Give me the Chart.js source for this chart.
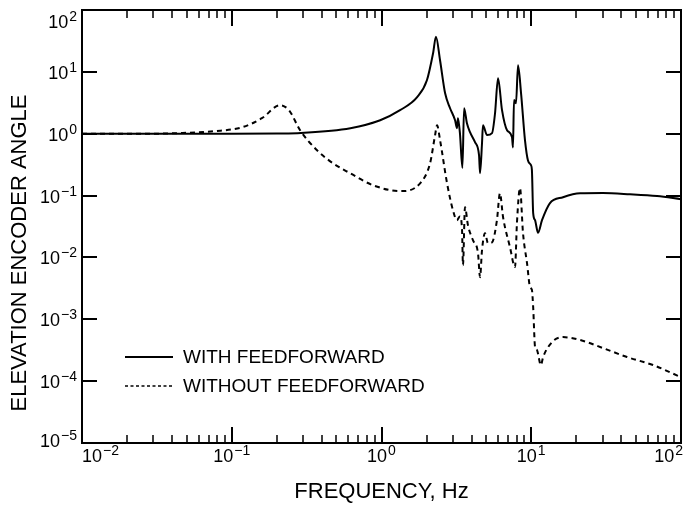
<!DOCTYPE html>
<html>
<head>
<meta charset="utf-8">
<script src="https://cdn.jsdelivr.net/npm/chart.js@4/dist/chart.umd.min.js"></script>
<style>
  html, body { margin: 0; padding: 0; background: #fff; }
</style>
</head>
<body>
<canvas id="chart" width="683" height="506"></canvas>
<script>
// values
const withFreq = [0.01, 0.03, 0.1, 0.2, 0.29, 0.62, 0.98, 1.33, 1.73, 2.01, 2.21, 2.31, 2.46, 2.66,
  2.87, 3.10, 3.19, 3.24, 3.34, 3.47, 3.56, 3.72, 3.90, 4.21, 4.48, 4.55, 4.69, 4.76, 5.07, 5.47,
  5.73, 6.0, 6.38, 6.89, 7.44, 7.55, 7.67, 7.91, 8.16, 8.55, 9.08, 9.51, 9.96, 10.1, 10.3, 10.6,
  11.1, 11.8, 13.3, 16.3, 21.2, 30.1, 45.6, 69.2, 100];
const withGain = [1.0, 1.0, 1.0, 1.01, 1.03, 1.23, 1.65, 2.4, 3.9, 7.3, 20, 37, 15.4, 4.5,
  2.58, 1.65, 1.23, 1.78, 1.02, 0.28, 2.58, 1.48, 1.06, 0.73, 0.45, 0.23, 0.70, 1.37, 0.95, 1.02,
  2.14, 7.9, 2.4, 1.14, 0.88, 0.6, 3.5, 3.1, 12.8, 4.5, 0.79, 0.37, 0.31, 0.26, 0.052, 0.040,
  0.025, 0.040, 0.075, 0.094, 0.109, 0.11, 0.105, 0.098, 0.0875];

const withoutFreq = [0.01, 0.028, 0.047, 0.077, 0.117, 0.159, 0.21, 0.241, 0.286, 0.371, 0.474,
  0.617, 0.877, 1.33, 1.81, 2.11, 2.28, 2.35, 2.46, 2.74, 3.0, 3.19, 3.34, 3.45, 3.50, 3.61, 3.78,
  4.08, 4.41, 4.55, 4.69, 4.91, 5.14, 5.47, 5.90, 6.18, 6.48, 7.21, 7.79, 8.03, 8.41, 8.81, 9.37,
  9.82, 10.1, 10.3, 10.6, 10.9, 11.6, 12.0, 13.8, 16.3, 21.2, 30.1, 43.6, 65, 100];
const withoutGain = [1.0, 1.0, 1.03, 1.1, 1.27, 1.78, 2.89, 2.4, 1.14, 0.54, 0.333,
  0.23, 0.147, 0.118, 0.158, 0.333, 0.95, 1.37, 0.79, 0.158, 0.058, 0.040, 0.046, 0.028, 0.0075, 0.065, 0.033,
  0.019, 0.0117, 0.0048, 0.0131, 0.0247, 0.017, 0.0175, 0.040, 0.109, 0.045, 0.0147, 0.007, 0.037, 0.132, 0.0247, 0.0081,
  0.0033, 0.003, 0.00157, 0.000356, 0.00032, 0.000182, 0.000245, 0.00043, 0.000515, 0.000462, 0.000343, 0.000245, 0.000182, 0.000116];

const seriesLabels = ["WITH FEEDFORWARD", "WITHOUT FEEDFORWARD"];
const xTickExps = [-2, -1, 0, 1, 2];
const yTickExps = [-5, -4, -3, -2, -1, 0, 1, 2];
const xTitle = "FREQUENCY, Hz";
const yTitle = "ELEVATION ENCODER ANGLE";

const FONT = '"Liberation Sans", Arial, Helvetica, sans-serif';

function expOf(value) {
  return String(Math.round(Math.log10(value))).replace("-", "\u2212");
}

function toPoints(xs, ys) {
  return xs.map((x, i) => ({ x, y: ys[i] }));
}

// "10" with a raised exponent; (x, baseline) is the left edge
function drawPow(ctx, value, x, base) {
  const e = expOf(value);
  ctx.font = "18px " + FONT;
  ctx.fillText("10", x, base);
  const w = ctx.measureText("10").width;
  ctx.font = "14px " + FONT;
  ctx.fillText(e, x + w + 1, base - 7);
}

function powWidth(ctx, value) {
  ctx.font = "18px " + FONT;
  const w = ctx.measureText("10").width;
  ctx.font = "14px " + FONT;
  return w + 1 + ctx.measureText(expOf(value)).width;
}

// frame, inward tick marks, tick labels, legend and y title
const decorations = {
  id: "decorations",
  afterDraw(chart) {
    const { ctx, chartArea: a, scales, width } = chart;
    const x = scales.x, y = scales.y;
    ctx.save();
    ctx.strokeStyle = "#000";
    ctx.fillStyle = "#000";
    ctx.lineWidth = 2;
    ctx.strokeRect(a.left, a.top, a.right - a.left, a.bottom - a.top);

    xTickExps.forEach((e) => {
      for (let m = 1; m <= 9; m++) {
        const v = m * Math.pow(10, e);
        if (v > x.max * 1.0001) break;
        const px = Math.round(x.getPixelForValue(v));
        const len = m === 1 ? 16 : 8;
        ctx.lineWidth = m === 1 ? 2 : 1.5;
        ctx.beginPath();
        ctx.moveTo(px, a.bottom); ctx.lineTo(px, a.bottom - len);
        ctx.moveTo(px, a.top); ctx.lineTo(px, a.top + len);
        ctx.stroke();
      }
    });
    ctx.lineWidth = 2;
    yTickExps.forEach((e) => {
      const py = Math.round(y.getPixelForValue(Math.pow(10, e)));
      ctx.beginPath();
      ctx.moveTo(a.left, py); ctx.lineTo(a.left + 15, py);
      ctx.moveTo(a.right, py); ctx.lineTo(a.right - 15, py);
      ctx.stroke();
    });

    // tick labels, end ones pulled inside like the original
    ctx.textBaseline = "alphabetic";
    ctx.textAlign = "left";
    x.ticks.forEach((t) => {
      const w = powWidth(ctx, t.value);
      let left = x.getPixelForValue(t.value) - w / 2;
      left = Math.max(a.left, Math.min(width - w, left));
      drawPow(ctx, t.value, left, a.bottom + 19);
    });
    y.ticks.forEach((t) => {
      const w = powWidth(ctx, t.value);
      let base = y.getPixelForValue(t.value) + 7;
      base = Math.max(a.top + 18, Math.min(a.bottom + 4, base));
      drawPow(ctx, t.value, a.left - 5 - w, base);
    });

    // legend inside plot
    const rows = [357, 386];
    ctx.font = "19px " + FONT;
    ctx.textBaseline = "middle";
    chart.data.datasets.forEach((ds, i) => {
      ctx.beginPath();
      ctx.lineWidth = i === 0 ? 2 : 1.5;
      ctx.setLineDash(i === 0 ? [] : [3, 2.5]);
      ctx.moveTo(125, rows[i]); ctx.lineTo(173, rows[i]);
      ctx.stroke();
      ctx.setLineDash([]);
      ctx.fillText(ds.label, 183, rows[i] + 1);
    });

    // y axis title
    ctx.translate(20, 253);
    ctx.rotate(-Math.PI / 2);
    ctx.textAlign = "center";
    ctx.font = "22px " + FONT;
    ctx.fillText(yTitle, 0, 0);
    ctx.restore();
  },
};

function fixPadding(s) {
  s.paddingLeft = 0; s.paddingRight = 0; s.paddingTop = 0; s.paddingBottom = 0;
}

new Chart(document.getElementById("chart"), {
  type: "line",
  data: {
    datasets: [
      {
        label: seriesLabels[0],
        data: toPoints(withFreq, withGain),
        borderColor: "#000",
        borderWidth: 2,
        pointRadius: 0,
        cubicInterpolationMode: "monotone",
      },
      {
        label: seriesLabels[1],
        data: toPoints(withoutFreq, withoutGain),
        borderColor: "#000",
        borderWidth: 2,
        borderDash: [5, 4],
        pointRadius: 0,
        cubicInterpolationMode: "monotone",
      },
    ],
  },
  options: {
    responsive: false,
    animation: false,
    devicePixelRatio: 1,
    layout: { padding: { top: 10, right: 2, left: 0, bottom: 0 } },
    plugins: { legend: { display: false }, tooltip: { enabled: false } },
    scales: {
      x: {
        type: "logarithmic",
        min: 0.01,
        max: 100,
        grid: { display: false, drawTicks: false },
        border: { display: false },
        afterBuildTicks: (s) => { s.ticks = xTickExps.map((e) => ({ value: Math.pow(10, e), major: true })); },
        afterFit: (s) => { s.height = 63; fixPadding(s); },
        ticks: { display: false },
        title: {
          display: true,
          text: xTitle,
          color: "#000",
          font: { family: FONT, size: 22 },
          padding: { top: 0, bottom: 1 },
        },
      },
      y: {
        type: "logarithmic",
        min: 1e-5,
        max: 100,
        grid: { display: false, drawTicks: false },
        border: { display: false },
        afterBuildTicks: (s) => { s.ticks = yTickExps.map((e) => ({ value: Math.pow(10, e), major: true })); },
        afterFit: (s) => { s.width = 82; fixPadding(s); },
        ticks: { display: false },
      },
    },
  },
  plugins: [decorations],
});
</script>
</body>
</html>
